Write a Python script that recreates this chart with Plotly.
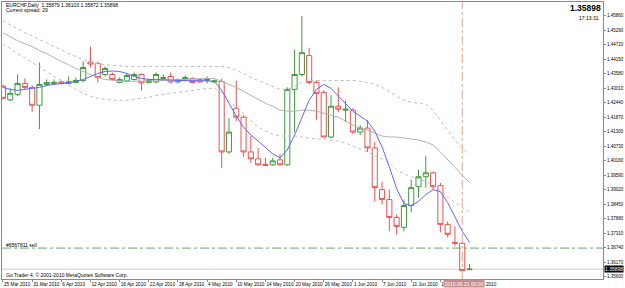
import plotly.graph_objects as go

# ---------------- data ----------------
dates = ["2010-03-25", "2010-03-26", "2010-03-29", "2010-03-30", "2010-03-31",
         "2010-04-01", "2010-04-02", "2010-04-05", "2010-04-06", "2010-04-07",
         "2010-04-08", "2010-04-09", "2010-04-12", "2010-04-13", "2010-04-14",
         "2010-04-15", "2010-04-16", "2010-04-19", "2010-04-20", "2010-04-21",
         "2010-04-22", "2010-04-23", "2010-04-26", "2010-04-27", "2010-04-28",
         "2010-04-29", "2010-04-30", "2010-05-03", "2010-05-04", "2010-05-05",
         "2010-05-06", "2010-05-07", "2010-05-10", "2010-05-11", "2010-05-12",
         "2010-05-13", "2010-05-14", "2010-05-17", "2010-05-18", "2010-05-19",
         "2010-05-20", "2010-05-21", "2010-05-24", "2010-05-25", "2010-05-26",
         "2010-05-27", "2010-05-28", "2010-05-31", "2010-06-01", "2010-06-02",
         "2010-06-03", "2010-06-04", "2010-06-07", "2010-06-08", "2010-06-09",
         "2010-06-10", "2010-06-11", "2010-06-14", "2010-06-15", "2010-06-16",
         "2010-06-17", "2010-06-18", "2010-06-20", "2010-06-21", "2010-06-22"]

opens = [1.43078, 1.42551, 1.42766, 1.43195, 1.43039, 1.42337, 1.43156, 1.43195, 1.43254, 1.43195,
         1.43234, 1.43312, 1.44034, 1.43975, 1.43546, 1.43546, 1.43234, 1.43293, 1.43351, 1.43546,
         1.43234, 1.43254, 1.43390, 1.43468, 1.43254, 1.43312, 1.43390, 1.43351, 1.43312, 1.43254,
         1.43273, 1.40503, 1.42220, 1.41869, 1.40503, 1.40230, 1.40016, 1.39996, 1.40191, 1.39996,
         1.42961, 1.43546, 1.44287, 1.43234, 1.42844, 1.41089, 1.42298, 1.42142, 1.42142, 1.41283,
         1.41440, 1.40659, 1.39021, 1.38631, 1.37929, 1.37539, 1.38397, 1.39138, 1.39528, 1.39684,
         1.39177, 1.37656, 1.36953, 1.36914, 1.35879]
highs = [1.43156, 1.43000, 1.43546, 1.43390, 1.43117, 1.44014, 1.43351, 1.43351, 1.43312, 1.43468,
         1.43429, 1.44053, 1.44639, 1.44053, 1.43858, 1.43624, 1.43429, 1.43585, 1.43624, 1.43585,
         1.43390, 1.43624, 1.43546, 1.43624, 1.43390, 1.43507, 1.43429, 1.43390, 1.43468, 1.43351,
         1.43390, 1.41830, 1.43312, 1.41947, 1.41128, 1.40659, 1.40269, 1.40269, 1.40425, 1.43039,
         1.44522, 1.45848, 1.44600, 1.43312, 1.42922, 1.42727, 1.43039, 1.42532, 1.42220, 1.41557,
         1.41752, 1.40893, 1.39333, 1.39021, 1.38046, 1.38631, 1.39411, 1.39801, 1.40347, 1.39723,
         1.39294, 1.37773, 1.37578, 1.36953, 1.36103]
lows = [1.42571, 1.42493, 1.42688, 1.42961, 1.42064, 1.41401, 1.43078, 1.43156, 1.43156, 1.43156,
        1.43195, 1.43234, 1.43819, 1.43234, 1.43468, 1.43312, 1.43195, 1.43234, 1.43312, 1.42922,
        1.43195, 1.43195, 1.43312, 1.43195, 1.43195, 1.43273, 1.43195, 1.43215, 1.43195, 1.43234,
        1.39879, 1.40425, 1.41713, 1.40308, 1.40074, 1.39957, 1.39938, 1.39957, 1.39957, 1.39957,
        1.41283, 1.43468, 1.43156, 1.41752, 1.41050, 1.41050, 1.42064, 1.41674, 1.41206, 1.41167,
        1.40503, 1.38553, 1.38436, 1.37382, 1.37265, 1.37382, 1.38124, 1.38709, 1.39099, 1.39021,
        1.37343, 1.37148, 1.36797, 1.35822, 1.35872]
closes = [1.42610, 1.42805, 1.43195, 1.43039, 1.42337, 1.43156, 1.43234, 1.43234, 1.43195, 1.43254,
          1.43312, 1.43819, 1.43956, 1.43429, 1.43780, 1.43351, 1.43351, 1.43507, 1.43546, 1.43215,
          1.43312, 1.43546, 1.43429, 1.43254, 1.43332, 1.43429, 1.43234, 1.43254, 1.43371, 1.43293,
          1.40503, 1.41283, 1.41869, 1.40503, 1.40230, 1.39996, 1.39977, 1.40152, 1.39996, 1.42961,
          1.43546, 1.44404, 1.43234, 1.42805, 1.41089, 1.42298, 1.42181, 1.42181, 1.41283, 1.41440,
          1.40659, 1.39099, 1.38631, 1.37929, 1.37578, 1.38397, 1.39099, 1.39528, 1.39684, 1.39138,
          1.37656, 1.37265, 1.36914, 1.35842, 1.35898]

ma_fast = [1.43039, 1.42961, 1.42922, 1.42961, 1.43000, 1.43039, 1.43117, 1.43156, 1.43195, 1.43234,
           1.43273, 1.43351, 1.43468, 1.43585, 1.43663, 1.43683, 1.43663, 1.43585, 1.43468, 1.43390,
           1.43351, 1.43351, 1.43351, 1.43332, 1.43312, 1.43312, 1.43312, 1.43312, 1.43293, 1.43273,
           1.42922, 1.42415, 1.41908, 1.41479, 1.41167, 1.40932, 1.40659, 1.40425, 1.40269, 1.40581,
           1.41167, 1.41869, 1.42532, 1.42961, 1.43156, 1.43000, 1.42688, 1.42376, 1.42103, 1.41908,
           1.41713, 1.41323, 1.40698, 1.39918, 1.39060, 1.38475, 1.38397, 1.38553, 1.38826, 1.39021,
           1.38943, 1.38514, 1.37929, 1.37382, 1.36953]
bb_mid = [1.45185, 1.45029, 1.44873, 1.44756, 1.44639, 1.44482, 1.44365, 1.44209, 1.44053, 1.43936,
          1.43780, 1.43663, 1.43546, 1.43429, 1.43351, 1.43312, 1.43293, 1.43273, 1.43273, 1.43273,
          1.43273, 1.43293, 1.43312, 1.43312, 1.43332, 1.43351, 1.43371, 1.43390, 1.43390, 1.43390,
          1.43273, 1.43156, 1.43039, 1.42883, 1.42727, 1.42571, 1.42415, 1.42298, 1.42142, 1.42103,
          1.42103, 1.42142, 1.42142, 1.42103, 1.42025, 1.41947, 1.41869, 1.41713, 1.41557, 1.41440,
          1.41362, 1.41244, 1.41128, 1.41089, 1.41089, 1.41050, 1.41011, 1.40972, 1.40893, 1.40776,
          1.40503, 1.40191, 1.39879, 1.39567, 1.39294]
bb_up = [1.45653, 1.45497, 1.45341, 1.45185, 1.45068, 1.44912, 1.44795, 1.44639, 1.44522, 1.44365,
         1.44248, 1.44131, 1.44014, 1.43975, 1.43936, 1.43897, 1.43897, 1.43858, 1.43858, 1.43858,
         1.43858, 1.43858, 1.43858, 1.43858, 1.43858, 1.43858, 1.43858, 1.43858, 1.43858, 1.43858,
         1.43858, 1.43819, 1.43702, 1.43585, 1.43429, 1.43312, 1.43195, 1.43078, 1.42961, 1.42961,
         1.43078, 1.43234, 1.43273, 1.43312, 1.43312, 1.43312, 1.43312, 1.43312, 1.43312, 1.43273,
         1.43234, 1.43156, 1.43039, 1.42883, 1.42688, 1.42532, 1.42454, 1.42415, 1.42376, 1.42142,
         1.41752, 1.41362, 1.40972, 1.40659, 1.40386]
bb_low = [1.44756, 1.44561, 1.44365, 1.44209, 1.44014, 1.43858, 1.43663, 1.43468, 1.43312, 1.43117,
          1.42961, 1.42805, 1.42688, 1.42610, 1.42571, 1.42532, 1.42532, 1.42532, 1.42571, 1.42610,
          1.42649, 1.42727, 1.42766, 1.42805, 1.42844, 1.42883, 1.42922, 1.42961, 1.43000, 1.43000,
          1.42844, 1.42532, 1.42259, 1.41986, 1.41713, 1.41479, 1.41323, 1.41206, 1.41128, 1.41128,
          1.41128, 1.41089, 1.41050, 1.41011, 1.41011, 1.40972, 1.40932, 1.40854, 1.40737, 1.40620,
          1.40503, 1.40347, 1.40230, 1.40074, 1.39801, 1.39645, 1.39528, 1.39450, 1.39333, 1.39216,
          1.38982, 1.38748, 1.38514, 1.38319, 1.38124]

x_tick_dates = dates[::4]
x_tick_text = ["25 Mar 2010", "31 Mar 2010", "6 Apr 2010", "12 Apr 2010", "16 Apr 2010",
               "22 Apr 2010", "28 Apr 2010", "4 May 2010", "10 May 2010", "14 May 2010",
               "20 May 2010", "26 May 2010", "1 Jun 2010", "7 Jun 2010", "11 Jun 2010",
               "17 Jun 2010", "22 Jun 2010"]
price_ticks = [1.35600, 1.36170, 1.36740, 1.37310, 1.37880, 1.38450, 1.39020, 1.39590,
               1.40160, 1.40730, 1.41300, 1.41870, 1.42440, 1.43010, 1.43580, 1.44150,
               1.44720, 1.45290, 1.45860]
order_price = 1.36725
order_label = "#6567811 sell"
cross_date = "2010-06-21"
cross_label = "2010.06.21 00:00"
symbol = "EURCHF,Daily"
spread_text = "Current spread: 29"
clock_text = "17:13:31"
copyright_text = "Go Trader 4, \u00a9 2001-2010 MetaQuotes Software Corp."

# ---------------- styling ----------------
W, H = 625, 288
PL, PR, PT, PB = 1, 607, 1, 280
FONT = "Liberation Sans, Arial, sans-serif"
GREEN = "#3f9b3f"
RED = "#f05050"
AXC = "#8a8a8a"


def pxx(v):
    return (v - PL) / (PR - PL)


def pxy(v):
    return (PB - v) / (PB - PT)


fig = go.Figure()

line_x = dates
fig.add_trace(go.Scatter(x=line_x, y=bb_up, mode="lines",
                         line=dict(color="#bdbdbd", width=1, dash="dot"), hoverinfo="skip"))
fig.add_trace(go.Scatter(x=line_x, y=bb_low, mode="lines",
                         line=dict(color="#bdbdbd", width=1, dash="dot"), hoverinfo="skip"))
fig.add_trace(go.Scatter(x=line_x, y=bb_mid, mode="lines",
                         line=dict(color="#b2b2b2", width=1), hoverinfo="skip"))

fig.add_trace(go.Candlestick(
    x=dates, open=opens, high=highs, low=lows, close=closes,
    increasing=dict(line=dict(color=GREEN, width=1), fillcolor="white"),
    decreasing=dict(line=dict(color=RED, width=1), fillcolor="white"),
    whiskerwidth=0,
))

fig.add_trace(go.Scatter(x=line_x, y=ma_fast, mode="lines",
                         line=dict(color="#6464ff", width=1), hoverinfo="skip"))

shapes = [
    # bid line
    dict(type="line", xref="paper", yref="y", x0=0, x1=1, y0=closes[-1], y1=closes[-1],
         line=dict(color="#cfcfc6", width=1), layer="below"),
    # order line
    dict(type="line", xref="paper", yref="y", x0=0, x1=1, y0=order_price, y1=order_price,
         line=dict(color="#66aa66", width=1, dash="dashdot")),
    # crosshair
    dict(type="line", xref="x", yref="paper", x0=cross_date, x1=cross_date, y0=0, y1=1,
         line=dict(color="#eba48c", width=1, dash="dashdot")),
]

small = dict(family=FONT, size=5, color="#000000")
annotations = [
    dict(x=pxx(3), y=pxy(3.6), xref="paper", yref="paper", xanchor="left", yanchor="middle",
         text=f"{symbol}  {opens[-1]:.5f} {highs[-1]:.5f} {lows[-1]:.5f} {closes[-1]:.5f}",
         showarrow=False, font=small),
    dict(x=pxx(3), y=pxy(8.8), xref="paper", yref="paper", xanchor="left", yanchor="middle",
         text=spread_text, showarrow=False, font=small),
    dict(x=pxx(606.5), y=pxy(7), xref="paper", yref="paper", xanchor="right", yanchor="middle",
         text=f"<b>{closes[-1]:.5f}</b>", showarrow=False,
         font=dict(family=FONT, size=8.5, color="#000000")),
    dict(x=pxx(604.5), y=pxy(17.5), xref="paper", yref="paper", xanchor="right", yanchor="middle",
         text=clock_text, showarrow=False, font=small),
    dict(x=pxx(3), y=pxy(245.5), xref="paper", yref="paper", xanchor="left", yanchor="middle",
         text=order_label, showarrow=False, font=small),
    dict(x=pxx(3), y=pxy(275.5), xref="paper", yref="paper", xanchor="left", yanchor="middle",
         text=copyright_text, showarrow=False, font=small),
    # current price box on axis
    dict(x=pxx(608), y=closes[-1], xref="paper", yref="y", xanchor="left", yanchor="middle",
         text=f"{closes[-1]:.5f}", showarrow=False, bgcolor="#000000", borderpad=0,
         font=dict(family=FONT, size=5, color="#ffffff")),
    # crosshair time box
    dict(x=cross_date, y=pxy(284.5), xref="x", yref="paper", xanchor="center", yanchor="middle",
         xshift=2, text=cross_label, showarrow=False, bgcolor="#c48e8e", borderpad=0.5,
         font=dict(family=FONT, size=5, color="#ffffff")),
]

fig.update_layout(
    width=W, height=H,
    margin=dict(l=PL, r=W - PR, t=PT, b=H - PB, pad=0),
    paper_bgcolor="white", plot_bgcolor="white",
    showlegend=False,
    boxgap=0.0, boxgroupgap=0.3,
    shapes=shapes, annotations=annotations,
    font=dict(family=FONT, size=5, color="#000000"),
    xaxis=dict(type="category", range=[-0.136, 82.31], rangeslider=dict(visible=False),
               showgrid=False, zeroline=False, showline=True, linecolor=AXC, linewidth=1,
               mirror=True, ticks="outside", ticklen=2, tickcolor=AXC,
               tickvals=x_tick_dates, ticktext=x_tick_text, tickangle=0,
               ticklabelposition="outside right",
               tickfont=dict(family=FONT, size=4.7, color="#000000")),
    yaxis=dict(range=[1.35510, 1.46394], side="right", showgrid=False, zeroline=False,
               showline=True, linecolor=AXC, linewidth=1, mirror=True,
               ticks="outside", ticklen=2, tickcolor=AXC,
               tickvals=price_ticks, ticktext=[f"{v:.5f}" for v in price_ticks],
               tickfont=dict(family=FONT, size=4.5, color="#000000")),
)

fig.write_html("out.html")
